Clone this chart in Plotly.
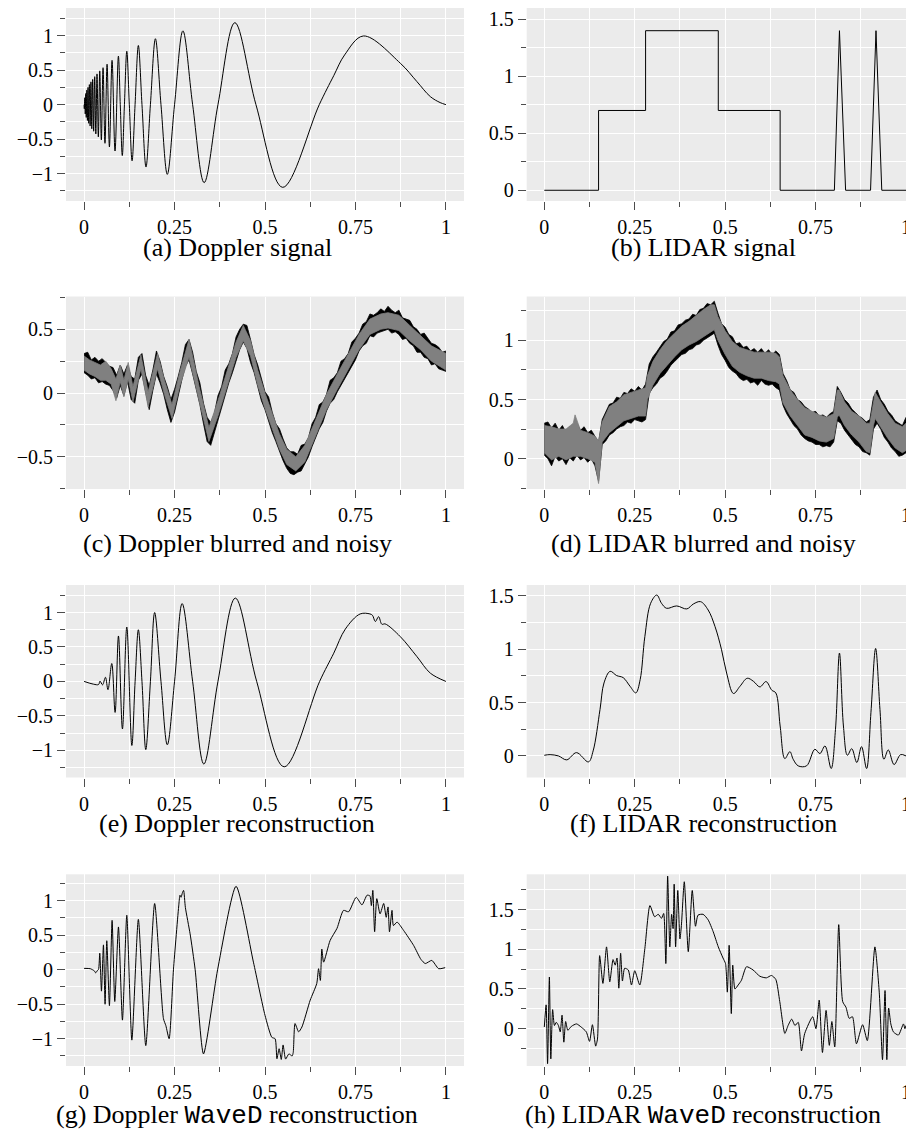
import plotly.graph_objects as go

# ---------------- data ----------------
# (a) Doppler signal: extremes and zero crossings
a_t = [0.0, 0.0006, 0.0019, 0.0032, 0.0046, 0.006, 0.0075, 0.0092, 0.0109, 0.0127,
       0.0146, 0.0167, 0.0189, 0.0212, 0.0237, 0.0264, 0.0293, 0.0324, 0.0357, 0.0394,
       0.0433, 0.0477, 0.0524, 0.0577, 0.0635, 0.070, 0.0773, 0.0855, 0.0948, 0.100,
       0.1056, 0.1115, 0.118, 0.125, 0.1326, 0.1409, 0.150, 0.160, 0.1711, 0.1833,
       0.1971, 0.2125, 0.230, 0.250, 0.2731, 0.300, 0.3318, 0.370, 0.4167, 0.475,
       0.549, 0.650, 0.690, 0.720, 0.772, 0.874, 0.920, 0.957, 0.984, 1.0]
a_v = [0.0, -0.06, 0.10, -0.135, 0.16, -0.185, 0.21, -0.23, 0.25, -0.27,
       0.29, -0.31, 0.33, -0.35, 0.365, -0.385, 0.405, -0.425, 0.445, -0.467,
       0.489, -0.511, 0.535, -0.56, 0.585, -0.612, 0.641, -0.671, 0.703, 0.0,
       -0.738, 0.0, 0.774, 0.0, -0.814, 0.0, 0.857, 0.0, -0.904, 0.0,
       0.955, 0.0, -1.01, 0.0, 1.069, 0.0, -1.13, 0.0, 1.187, 0.0,
       -1.198, 0.0, 0.42, 0.72, 0.995, 0.60, 0.333, 0.116, 0.03, 0.0]

# (b) LIDAR signal
b_t = [0.0, 0.150, 0.150, 0.280, 0.280, 0.481, 0.481, 0.652, 0.652, 0.802, 0.816, 0.833,
       0.902, 0.917, 0.933, 1.0]
b_v = [0.0, 0.0, 0.7, 0.7, 1.4, 1.4, 0.7, 0.7, 0.0, 0.0, 1.4, 0.0, 0.0, 1.4, 0.0, 0.0]

# sample positions used for the black noisy series envelopes in (c) and (d)
noisy_t = [0.00, 0.01, 0.02, 0.03, 0.04, 0.05, 0.06, 0.07, 0.08, 0.09,
           0.10, 0.11, 0.12, 0.13, 0.14, 0.15, 0.16, 0.17, 0.18, 0.19,
           0.20, 0.21, 0.22, 0.23, 0.24, 0.25, 0.26, 0.27, 0.28, 0.29,
           0.30, 0.31, 0.32, 0.33, 0.34, 0.35, 0.36, 0.37, 0.38, 0.39,
           0.40, 0.41, 0.42, 0.43, 0.44, 0.45, 0.46, 0.47, 0.48, 0.49,
           0.50, 0.51, 0.52, 0.53, 0.54, 0.55, 0.56, 0.57, 0.58, 0.59,
           0.60, 0.61, 0.62, 0.63, 0.64, 0.65, 0.66, 0.67, 0.68, 0.69,
           0.70, 0.71, 0.72, 0.73, 0.74, 0.75, 0.76, 0.77, 0.78, 0.79,
           0.80, 0.81, 0.82, 0.83, 0.84, 0.85, 0.86, 0.87, 0.88, 0.89,
           0.90, 0.91, 0.92, 0.93, 0.94, 0.95, 0.96, 0.97, 0.98, 0.99, 1.00]

# (c) Doppler blurred and noisy: black series envelope
c_black_hi = [0.31, 0.32, 0.26, 0.28, 0.25, 0.27, 0.24, 0.21, 0.20, 0.14,
              0.22, 0.15, 0.22, 0.13, 0.11, 0.28, 0.31, 0.14, 0.06, 0.18,
              0.33, 0.25, 0.13, 0.05, -0.05, 0.03, 0.13, 0.24, 0.38, 0.42,
              0.32, 0.17, 0.08, -0.08, -0.19, -0.23, -0.16, -0.02, 0.05, 0.18,
              0.23, 0.31, 0.44, 0.50, 0.54, 0.53, 0.42, 0.30, 0.22, 0.11,
              0.01, -0.03, -0.15, -0.24, -0.28, -0.36, -0.43, -0.46, -0.46, -0.48,
              -0.41, -0.40, -0.35, -0.24, -0.19, -0.09, -0.07, -0.01, 0.10, 0.12,
              0.16, 0.25, 0.27, 0.31, 0.40, 0.43, 0.47, 0.54, 0.56, 0.62,
              0.61, 0.63, 0.66, 0.64, 0.68, 0.65, 0.63, 0.65, 0.59, 0.58,
              0.57, 0.52, 0.50, 0.46, 0.47, 0.43, 0.39, 0.38, 0.36, 0.32, 0.33]
c_black_lo = [0.16, 0.14, 0.11, 0.12, 0.08, 0.09, 0.07, 0.06, 0.02, -0.04,
              0.06, -0.02, 0.09, -0.05, -0.08, 0.10, 0.15, 0.00, -0.13, 0.02,
              0.15, 0.08, -0.01, -0.13, -0.23, -0.15, -0.02, 0.10, 0.21, 0.26,
              0.15, 0.03, -0.09, -0.24, -0.38, -0.41, -0.31, -0.20, -0.10, -0.01,
              0.08, 0.16, 0.26, 0.34, 0.40, 0.35, 0.24, 0.16, 0.05, -0.06,
              -0.13, -0.22, -0.31, -0.38, -0.46, -0.53, -0.59, -0.63, -0.64, -0.62,
              -0.61, -0.55, -0.50, -0.42, -0.35, -0.28, -0.23, -0.14, -0.08, -0.05,
              0.01, 0.06, 0.12, 0.16, 0.22, 0.26, 0.33, 0.37, 0.39, 0.45,
              0.44, 0.47, 0.48, 0.49, 0.50, 0.47, 0.48, 0.46, 0.42, 0.43,
              0.39, 0.37, 0.32, 0.32, 0.28, 0.27, 0.22, 0.23, 0.19, 0.18, 0.17]
# (c) grey series envelope
c_t = [0.000, 0.015, 0.030, 0.045, 0.060, 0.075, 0.088, 0.100, 0.110, 0.122,
       0.135, 0.157, 0.177, 0.203, 0.222, 0.243, 0.265, 0.290, 0.318, 0.345,
       0.370, 0.400, 0.420, 0.440, 0.460, 0.480, 0.500, 0.520, 0.540, 0.560,
       0.585, 0.610, 0.640, 0.670, 0.700, 0.730, 0.760, 0.790, 0.820, 0.840,
       0.870, 0.900, 0.930, 0.960, 1.000]
c_grey_hi = [0.29, 0.26, 0.24, 0.22, 0.25, 0.19, 0.11, 0.22, 0.10, 0.24,
             0.05, 0.30, 0.01, 0.31, 0.10, -0.09, 0.17, 0.42, 0.05, -0.27,
             -0.06, 0.22, 0.40, 0.53, 0.41, 0.18, 0.00, -0.16, -0.32, -0.44,
             -0.50, -0.41, -0.21, -0.01, 0.15, 0.31, 0.46, 0.58, 0.62, 0.63,
             0.61, 0.53, 0.45, 0.37, 0.31]
c_grey_lo = [0.18, 0.15, 0.13, 0.10, 0.10, 0.07, -0.06, 0.09, -0.03, 0.11,
             -0.07, 0.19, -0.11, 0.19, -0.01, -0.20, 0.06, 0.28, -0.06, -0.38,
             -0.18, 0.10, 0.28, 0.41, 0.29, 0.06, -0.12, -0.28, -0.44, -0.56,
             -0.61, -0.54, -0.33, -0.13, 0.03, 0.19, 0.34, 0.46, 0.50, 0.51,
             0.49, 0.41, 0.34, 0.25, 0.18]

# (d) LIDAR blurred and noisy: black series envelope
d_black_hi = [0.30, 0.31, 0.26, 0.30, 0.24, 0.28, 0.22, 0.27, 0.26, 0.30,
              0.24, 0.27, 0.22, 0.24, 0.19, 0.14, 0.33, 0.40, 0.46, 0.47,
              0.52, 0.51, 0.56, 0.55, 0.59, 0.57, 0.61, 0.58, 0.63, 0.80,
              0.86, 0.90, 0.94, 0.99, 1.01, 1.07, 1.08, 1.13, 1.14, 1.17,
              1.18, 1.22, 1.21, 1.26, 1.27, 1.31, 1.30, 1.33, 1.23, 1.14,
              1.11, 1.05, 1.03, 0.97, 0.98, 0.94, 0.95, 0.91, 0.93, 0.90,
              0.93, 0.89, 0.92, 0.88, 0.91, 0.88, 0.72, 0.66, 0.58, 0.56,
              0.50, 0.48, 0.44, 0.42, 0.39, 0.40, 0.36, 0.37, 0.35, 0.38,
              0.40, 0.61, 0.56, 0.50, 0.47, 0.42, 0.39, 0.36, 0.34, 0.31,
              0.33, 0.52, 0.58, 0.50, 0.46, 0.40, 0.37, 0.32, 0.30, 0.28, 0.35]
d_black_lo = [0.03, 0.00, -0.06, 0.02, -0.02, 0.00, -0.05, 0.01, -0.02, 0.03,
              -0.01, 0.01, -0.03, 0.00, -0.06, -0.19, 0.12, 0.15, 0.20, 0.22,
              0.25, 0.27, 0.28, 0.31, 0.30, 0.33, 0.32, 0.31, 0.33, 0.55,
              0.60, 0.63, 0.68, 0.70, 0.74, 0.79, 0.82, 0.85, 0.88, 0.89,
              0.92, 0.93, 0.96, 0.97, 1.00, 1.02, 1.04, 1.06, 0.96, 0.88,
              0.83, 0.77, 0.74, 0.72, 0.68, 0.66, 0.67, 0.64, 0.65, 0.62,
              0.66, 0.63, 0.62, 0.63, 0.60, 0.58, 0.45, 0.38, 0.33, 0.28,
              0.25, 0.20, 0.17, 0.15, 0.14, 0.12, 0.12, 0.10, 0.11, 0.10,
              0.14, 0.32, 0.30, 0.24, 0.20, 0.16, 0.12, 0.10, 0.06, 0.05,
              0.03, 0.25, 0.30, 0.25, 0.18, 0.14, 0.09, 0.06, 0.02, 0.03, 0.05]
# (d) grey series envelope
d_t = [0.00, 0.02, 0.04, 0.06, 0.08, 0.085, 0.10, 0.12, 0.14, 0.15,
       0.16, 0.18, 0.20, 0.22, 0.24, 0.26, 0.28, 0.285, 0.30, 0.32,
       0.34, 0.36, 0.38, 0.40, 0.42, 0.44, 0.46, 0.47, 0.48, 0.50,
       0.52, 0.54, 0.56, 0.58, 0.60, 0.62, 0.64, 0.65, 0.66, 0.68,
       0.70, 0.72, 0.74, 0.76, 0.78, 0.80, 0.81, 0.815, 0.83, 0.85,
       0.87, 0.89, 0.90, 0.91, 0.915, 0.93, 0.95, 0.97, 0.99, 1.00]
d_grey_hi = [0.28, 0.27, 0.25, 0.25, 0.30, 0.37, 0.24, 0.22, 0.19, 0.15,
             0.31, 0.44, 0.48, 0.54, 0.56, 0.58, 0.60, 0.70, 0.82, 0.92,
             1.00, 1.06, 1.12, 1.16, 1.21, 1.26, 1.30, 1.30, 1.20, 1.08,
             0.99, 0.94, 0.92, 0.90, 0.90, 0.90, 0.89, 0.86, 0.70, 0.58,
             0.50, 0.43, 0.40, 0.37, 0.35, 0.38, 0.58, 0.58, 0.48, 0.40,
             0.36, 0.30, 0.30, 0.48, 0.56, 0.48, 0.38, 0.30, 0.27, 0.30]
d_grey_lo = [0.05, -0.01, 0.02, -0.01, 0.02, 0.02, 0.02, 0.00, -0.03, -0.21,
             0.14, 0.22, 0.27, 0.32, 0.34, 0.36, 0.36, 0.50, 0.62, 0.72,
             0.79, 0.86, 0.92, 0.96, 0.99, 1.03, 1.07, 1.09, 1.00, 0.88,
             0.78, 0.73, 0.70, 0.68, 0.68, 0.66, 0.65, 0.63, 0.47, 0.36,
             0.28, 0.20, 0.18, 0.15, 0.14, 0.17, 0.35, 0.37, 0.28, 0.20,
             0.14, 0.06, 0.05, 0.28, 0.34, 0.27, 0.17, 0.09, 0.05, 0.07]

# (e) Doppler reconstruction
e_t = [0.0, 0.026, 0.040, 0.044, 0.051, 0.059, 0.066, 0.0765, 0.0857, 0.095,
       0.106, 0.118, 0.132, 0.141, 0.150, 0.160, 0.1705, 0.1833, 0.195, 0.2125,
       0.230, 0.250, 0.271, 0.300, 0.331, 0.370, 0.418, 0.477, 0.553, 0.651,
       0.690, 0.722, 0.763, 0.790, 0.797, 0.805, 0.814, 0.823, 0.832, 0.874,
       0.920, 0.957, 1.0]
e_v = [0.0, -0.04, -0.045, 0.005, -0.05, 0.06, -0.12, 0.26, -0.45, 0.66,
       -0.69, 0.79, -0.93, 0.0, 0.75, 0.0, -0.99, 0.0, 1.0, 0.0,
       -0.92, 0.0, 1.13, 0.0, -1.2, 0.0, 1.21, 0.0, -1.24, 0.0,
       0.41, 0.76, 0.98, 0.98, 0.96, 0.87, 0.94, 0.83, 0.835, 0.65,
       0.36, 0.12, 0.0]

# (f) LIDAR reconstruction
f_t = [0.0, 0.016, 0.039, 0.062, 0.089, 0.122, 0.135, 0.154, 0.165, 0.182,
       0.200, 0.218, 0.237, 0.253, 0.265, 0.278, 0.294, 0.311, 0.324, 0.338,
       0.366, 0.394, 0.412, 0.432, 0.453, 0.472, 0.490, 0.504, 0.523, 0.541,
       0.561, 0.578, 0.596, 0.613, 0.629, 0.640, 0.652, 0.665, 0.679, 0.688,
       0.702, 0.725, 0.748, 0.762, 0.776, 0.793, 0.805, 0.816, 0.827, 0.838,
       0.850, 0.864, 0.877, 0.891, 0.903, 0.916, 0.928, 0.939, 0.951, 0.967,
       0.985, 1.0]
f_v = [0.006, 0.012, 0.0, -0.037, 0.031, -0.056, 0.047, 0.435, 0.683, 0.792,
       0.752, 0.733, 0.652, 0.59, 0.714, 1.118, 1.429, 1.506, 1.429, 1.382,
       1.404, 1.376, 1.422, 1.444, 1.366, 1.211, 0.994, 0.776, 0.584, 0.652,
       0.727, 0.699, 0.646, 0.696, 0.615, 0.59, 0.28, -0.025, 0.04, -0.031,
       -0.093, -0.093, 0.062, 0.022, 0.093, -0.118, 0.248, 0.963, 0.28, 0.006,
       0.068, -0.062, 0.087, -0.118, 0.404, 1.006, 0.435, -0.031, 0.056, -0.081,
       0.012, 0.0]

# (g) Doppler WaveD reconstruction
g_t = [0.0, 0.017, 0.028, 0.032, 0.037, 0.040, 0.0433, 0.048, 0.0535, 0.058,
       0.0627, 0.070, 0.0774, 0.0848, 0.095, 0.106, 0.118, 0.132, 0.150, 0.1705,
       0.195, 0.2194, 0.226, 0.235, 0.247, 0.262, 0.265, 0.268, 0.272, 0.275,
       0.280, 0.293, 0.307, 0.330, 0.369, 0.420, 0.468, 0.500, 0.519, 0.528,
       0.533, 0.539, 0.545, 0.550, 0.557, 0.566, 0.575, 0.578, 0.583, 0.593,
       0.602, 0.625, 0.643, 0.648, 0.653, 0.657, 0.662, 0.680, 0.699, 0.717,
       0.731, 0.752, 0.768, 0.782, 0.790, 0.794, 0.798, 0.803, 0.809, 0.818,
       0.828, 0.835, 0.840, 0.844, 0.851, 0.855, 0.865, 0.883, 0.911, 0.931,
       0.943, 0.961, 0.980, 0.998]
g_v = [0.02, 0.015, -0.015, -0.045, -0.01, 0.005, 0.24, -0.31, 0.36, -0.50,
       0.42, -0.52, 0.715, -0.46, 0.62, -0.73, 0.79, -1.02, 0.73, -1.10,
       0.96, -0.71, -0.81, -1.0, 0.0, 0.95, 1.08, 1.05, 1.12, 1.15,
       0.90, 0.52, 0.0, -1.22, 0.0, 1.21, 0.11, -0.66, -0.98, -1.0,
       -1.29, -1.145, -1.30, -1.09, -1.295, -1.22, -1.25, -1.20, -0.78, -0.90,
       -0.83, -0.44, -0.20, 0.015, -0.155, 0.30, 0.11, 0.425, 0.60, 0.86,
       0.84, 1.05, 0.94, 1.08, 1.07, 0.93, 1.15, 0.55, 1.03, 0.81,
       0.96, 0.76, 0.91, 0.55, 0.86, 0.64, 0.69, 0.57, 0.35, 0.15,
       0.09, 0.135, 0.015, 0.03]

# (h) LIDAR WaveD reconstruction
h_t = [0.0, 0.005, 0.009, 0.014, 0.018, 0.023, 0.028, 0.033, 0.039, 0.044,
       0.049, 0.054, 0.059, 0.065, 0.075, 0.089, 0.102, 0.116, 0.125, 0.133,
       0.142, 0.147, 0.153, 0.162, 0.172, 0.181, 0.190, 0.196, 0.201, 0.206,
       0.211, 0.216, 0.222, 0.232, 0.241, 0.250, 0.264, 0.278, 0.292, 0.305,
       0.315, 0.324, 0.330, 0.336, 0.341, 0.347, 0.352, 0.356, 0.359, 0.363,
       0.369, 0.375, 0.379, 0.387, 0.398, 0.409, 0.418, 0.425, 0.439, 0.453,
       0.467, 0.481, 0.494, 0.501, 0.506, 0.511, 0.517, 0.521, 0.527, 0.536,
       0.545, 0.559, 0.577, 0.596, 0.614, 0.628, 0.640, 0.651, 0.665, 0.674,
       0.684, 0.693, 0.702, 0.711, 0.720, 0.742, 0.751, 0.760, 0.769, 0.779,
       0.788, 0.795, 0.803, 0.814, 0.825, 0.834, 0.843, 0.852, 0.863, 0.880,
       0.893, 0.914, 0.926, 0.935, 0.942, 0.947, 0.952, 0.958, 0.965, 0.979,
       0.993, 0.997, 1.0]
h_v = [0.02, 0.30, -0.44, 0.65, -0.38, 0.24, 0.04, 0.08, 0.04, -0.04,
       0.17, -0.17, 0.09, -0.02, 0.03, 0.06, 0.02, -0.04, -0.16, 0.05,
       -0.22, -0.13, 0.92, 0.57, 1.03, 0.59, 0.87, 0.80, 0.89, 0.51,
       0.95, 0.60, 0.76, 0.74, 0.55, 0.73, 0.55, 1.01, 1.55, 1.41,
       1.44, 1.39, 1.45, 0.82, 1.92, 1.03, 1.44, 1.26, 1.82, 1.03,
       1.74, 1.13, 1.30, 1.85, 0.97, 1.74, 1.29, 1.43, 1.44, 1.37,
       1.22, 1.03, 0.89, 0.82, 0.46, 1.05, 0.19, 0.80, 0.50, 0.55,
       0.61, 0.78, 0.74, 0.66, 0.64, 0.67, 0.62, 0.34, -0.06, 0.04,
       0.12, 0.04, 0.08, -0.28, -0.06, 0.15, 0.0, 0.36, -0.30, 0.23,
       -0.21, 0.09, -0.23, 1.31, 0.34, 0.27, 0.13, 0.15, -0.19, 0.05,
       -0.15, 1.03, 0.46, -0.39, 0.48, -0.39, 0.26, 0.06, -0.04, -0.08,
       0.06, 0.0, 0.04]

# tick labels
x_ticks = [0, 0.25, 0.5, 0.75, 1]
x_ticktext = ["0", "0.25", "0.5", "0.75", "1"]
x_minor = [0.125, 0.375, 0.625, 0.875]

captions = ["(a) Doppler signal", "(b) LIDAR signal",
            "(c) Doppler blurred and noisy", "(d) LIDAR blurred and noisy",
            "(e) Doppler reconstruction", "(f) LIDAR reconstruction",
            "(g) Doppler <span style=\"font-family:'Liberation Mono'\">WaveD</span> reconstruction",
            "(h) LIDAR <span style=\"font-family:'Liberation Mono'\">WaveD</span> reconstruction"]

# ---------------- layout geometry ----------------
# The page body has an 8px margin, so the figure sits 8px in from the
# window's top-left corner; positions below are window pixels minus 8.
OFF = 8
W, H = 914 - OFF, 1132 - OFF
SERIF = "Liberation Serif"
TICKCOL = "#4d4d4d"
BG = "#EBEBEB"
GREY = "#808080"

def xd(a, b):
    return [max(0.0, (a - OFF) / W), min(1.0, (b - OFF) / W)]

def yd(top, bot):
    return [max(0.0, 1 - (bot - OFF) / H), min(1.0, 1 - (top - OFF) / H)]

left_dom = xd(66, 464)
right_dom = xd(526.7, 914)
row_dom = [yd(8, 201), yd(296.5, 489), yd(585, 777.5), yd(874.3, 1066)]

def fmt(v):
    return ("%g" % v).replace("-", "\u2212")

# y axis specs per panel: range, major, minor
y_specs = [
    ([-1.396, 1.40], [-1, -0.5, 0, 0.5, 1], [-1.25, -0.75, -0.25, 0.25, 0.75, 1.25]),
    ([-0.094, 1.599], [0, 0.5, 1, 1.5], [0.25, 0.75, 1.25]),
    ([-0.752, 0.757], [-0.5, 0, 0.5], [-0.75, -0.25, 0.25, 0.75]),
    ([-0.256, 1.37], [0, 0.5, 1], [-0.25, 0.25, 0.75, 1.25]),
    ([-1.395, 1.40], [-1, -0.5, 0, 0.5, 1], [-1.25, -0.75, -0.25, 0.25, 0.75, 1.25]),
    ([-0.202, 1.60], [0, 0.5, 1, 1.5], [0.25, 0.75, 1.25]),
    ([-1.395, 1.383], [-1, -0.5, 0, 0.5, 1], [-1.25, -0.75, -0.25, 0.25, 0.75, 1.25]),
    ([-0.47, 1.944], [0, 0.5, 1, 1.5], [-0.25, 0.25, 0.75, 1.25, 1.75]),
]

fig = go.Figure()
layout = dict(width=W, height=H, margin=dict(l=0, r=0, t=0, b=0),
              paper_bgcolor="white", plot_bgcolor=BG, showlegend=False,
              font=dict(family=SERIF, color="black"))

for i in range(8):
    col = i % 2
    row = i // 2
    n = "" if i == 0 else str(i + 1)
    xr = [-0.05, 1.05] if col == 0 else [-0.0487, 1.0221]
    yr, ymaj, ymin = y_specs[i]
    common = dict(ticks="outside", ticklen=8, tickwidth=1, tickcolor=TICKCOL,
                  showgrid=True, gridcolor="white", gridwidth=1.4,
                  zeroline=False, showline=False, fixedrange=True,
                  ticklabelstandoff=0,
                  tickfont=dict(family=SERIF, size=20, color="black"))
    layout["xaxis" + n] = dict(domain=left_dom if col == 0 else right_dom,
                               range=xr, anchor="y" + n, tickmode="array",
                               tickvals=x_ticks, ticktext=x_ticktext,
                               minor=dict(tickmode="array", tickvals=x_minor, ticks="outside",
                                          ticklen=5, tickcolor=TICKCOL, tickwidth=1,
                                          showgrid=True, gridcolor="white", gridwidth=0.8),
                               **common)
    layout["yaxis" + n] = dict(domain=row_dom[row], range=yr, anchor="x" + n,
                               tickmode="array", tickvals=ymaj,
                               ticktext=[fmt(v) for v in ymaj],
                               minor=dict(tickmode="array", tickvals=ymin, ticks="outside",
                                          ticklen=5, tickcolor=TICKCOL, tickwidth=1,
                                          showgrid=True, gridcolor="white", gridwidth=0.8),
                               **common)

def line(xs, ys, k, shape="spline", smoothing=1.0, color="black", width=1.0):
    n = "" if k == 0 else str(k + 1)
    ln = dict(color=color, width=width, shape=shape)
    if shape == "spline":
        ln["smoothing"] = smoothing
    fig.add_trace(go.Scatter(x=xs, y=ys, mode="lines", line=ln,
                             xaxis="x" + n, yaxis="y" + n, hoverinfo="skip"))

def band(xs, hi, lo, k, color, width=0.8):
    n = "" if k == 0 else str(k + 1)
    fig.add_trace(go.Scatter(x=xs, y=hi, mode="lines", line=dict(color=color, width=width),
                             xaxis="x" + n, yaxis="y" + n, hoverinfo="skip"))
    fig.add_trace(go.Scatter(x=xs, y=lo, mode="lines", line=dict(color=color, width=width),
                             fill="tonexty", fillcolor=color,
                             xaxis="x" + n, yaxis="y" + n, hoverinfo="skip"))

line(a_t, a_v, 0, smoothing=1.0)
line(b_t, b_v, 1, shape="linear")
band(noisy_t, c_black_hi, c_black_lo, 2, "black")
band(c_t, c_grey_hi, c_grey_lo, 2, GREY)
band(noisy_t, d_black_hi, d_black_lo, 3, "black")
band(d_t, d_grey_hi, d_grey_lo, 3, GREY)
line(e_t, e_v, 4, smoothing=1.0)
line(f_t, f_v, 5, smoothing=1.0)
line(g_t, g_v, 6, smoothing=0.6)
line(h_t, h_v, 7, smoothing=0.6)

cap_x = [237, 703]
cap_y = [248, 543, 823, 1115]
anns = []
for i, txt in enumerate(captions):
    anns.append(dict(text=txt, x=(cap_x[i % 2] - OFF) / W, y=1 - (cap_y[i // 2] - OFF) / H,
                     xref="paper", yref="paper", xanchor="center", yanchor="middle",
                     showarrow=False, font=dict(family=SERIF, size=26, color="black")))
layout["annotations"] = anns

fig.update_layout(**layout)
fig.write_html("out.html")
